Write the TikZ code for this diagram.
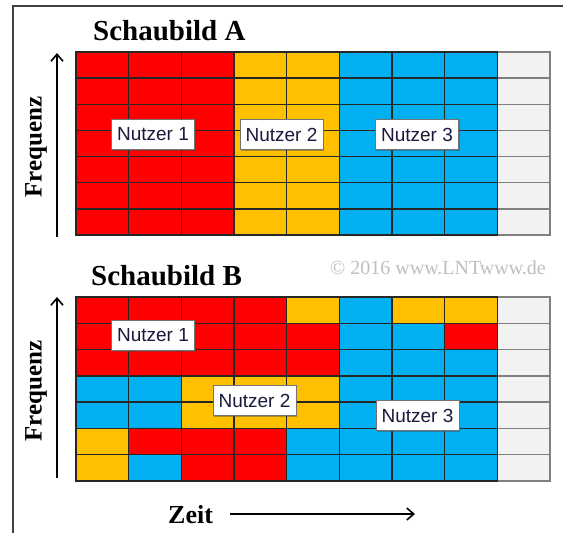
\documentclass[tikz,border=0pt]{standalone}
\usepackage{fontspec}
\setmainfont{Liberation Serif}
\newfontfamily\lblfont{Liberation Sans}
\usetikzlibrary{arrows.meta,shadows}
\definecolor{cR}{RGB}{255,0,0}
\definecolor{cY}{RGB}{255,192,0}
\definecolor{cB}{RGB}{0,176,240}
\definecolor{cG}{RGB}{242,242,242}
\definecolor{txt}{RGB}{25,25,60}
\begin{document}
\begin{tikzpicture}[x=1pt,y=-1pt,
  lbl/.style={draw=black!55, fill=white, line width=0.9pt,
    font=\lblfont\fontsize{19}{19}\selectfont, text=txt,
    minimum width=83pt, minimum height=30pt, inner sep=0pt,
    drop shadow={shadow xshift=1.3pt, shadow yshift=-1.3pt, opacity=0.45, fill=black!70}},
  ttl/.style={font=\bfseries\fontsize{29}{29}\selectfont, anchor=base west, inner sep=0pt},
  axlbl/.style={font=\bfseries\fontsize{25}{25}\selectfont, inner sep=0pt},
  axarrow/.style={line width=1.6pt, -{Straight Barb[length=7pt,width=12pt,line width=1.6pt]}},
  cellc/.style={draw=black!85, line width=1.3pt},
  cellg/.style={draw=black!50, line width=1.3pt, fill=cG}
]
\useasboundingbox (0,0) rectangle (563,533);
\fill[white] (0,0) rectangle (563,533);
% frame
\draw[line width=2pt, draw=black!75] (13,533) -- (13,6) -- (563,6);

% ---------- Schaubild A ----------
\def\wA{52.667}\def\hA{26.143}
\foreach \j in {0,...,6} {
  \filldraw[cellg] ({76+8*\wA},{52+\j*\hA}) rectangle ++(\wA,\hA);
}
\foreach \c [count=\i from 0] in {cR,cR,cR,cY,cY,cB,cB,cB} {
  \foreach \j in {0,...,6} {
    \filldraw[cellc, fill=\c] ({76+\i*\wA},{52+\j*\hA}) rectangle ++(\wA,\hA);
  }
}

% ---------- Schaubild B ----------
\def\hB{26.286}
\foreach \row [count=\j from 0] in {
  {cR,cR,cR,cR,cY,cB,cY,cY},
  {cR,cR,cR,cR,cR,cB,cB,cR},
  {cR,cR,cR,cR,cR,cB,cB,cB},
  {cB,cB,cY,cY,cY,cB,cB,cB},
  {cB,cB,cY,cY,cY,cB,cB,cB},
  {cY,cR,cR,cR,cB,cB,cB,cB},
  {cY,cB,cR,cR,cB,cB,cB,cB}} {
  \filldraw[cellg] ({76+8*\wA},{297+\j*\hB}) rectangle ++(\wA,\hB);
  \foreach \c [count=\i from 0] in \row {
    \filldraw[cellc, fill=\c] ({76+\i*\wA},{297+\j*\hB}) rectangle ++(\wA,\hB);
  }
}

% titles
\node[ttl] (ta) at (93,40) {Schaubild A};
\node[ttl] (tb) at (91,285) {Schaubild B};
\node[font=\fontsize{20}{20}\selectfont, text=black!25, anchor=base east, inner sep=0pt] (cr) at (546,274) {© 2016 www.LNTwww.de};

% labels
\node[lbl] (nA1) at (153,134.5) {Nutzer 1};
\node[lbl] (nA2) at (281.5,134.5) {Nutzer 2};
\node[lbl] (nA3) at (417,134.5) {Nutzer 3};
\node[lbl] (nB1) at (153,335.5) {Nutzer 1};
\node[lbl] (nB2) at (254.5,400.5) {Nutzer 2};
\node[lbl] (nB3) at (417.5,415.5) {Nutzer 3};

% axes
\node[axlbl, rotate=90] (fa) at (36,147) {Frequenz};
\node[axlbl, rotate=90] (fb) at (36,391) {Frequenz};
\coordinate (a1s) at (57,237); \coordinate (a1e) at (57,53);
\coordinate (a2s) at (57,478); \coordinate (a2e) at (57,297);
\draw[axarrow] (a1s) -- (a1e);
\draw[axarrow] (a2s) -- (a2e);
\node[axlbl, font=\bfseries\fontsize{26}{26}\selectfont, anchor=base west] (zeit) at (168,523) {Zeit};
\coordinate (zs) at (230,514); \coordinate (ze) at (415,514);
\draw[axarrow] (zs) -- (ze);
\end{tikzpicture}
\end{document}
